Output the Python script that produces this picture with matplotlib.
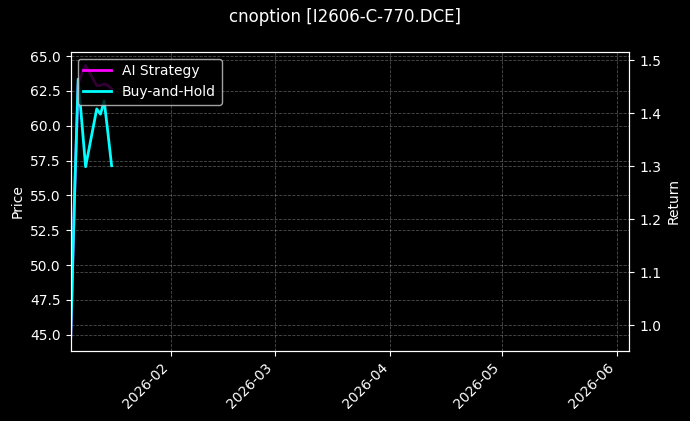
import matplotlib
matplotlib.use("Agg")
import matplotlib.pyplot as plt
import matplotlib.dates as mdates
import pandas as pd

plt.style.use("dark_background")

# values
dates = pd.to_datetime(["2026-01-05", "2026-01-06", "2026-01-07", "2026-01-08", "2026-01-09",
                        "2026-01-12", "2026-01-13", "2026-01-14", "2026-01-15", "2026-01-16"])
ai_strategy = [0.978, 1.237, 1.455, 1.475, 1.490, 1.452, 1.452, 1.455, 1.452, 1.446]
buy_hold = [0.978, 1.237, 1.464, 1.382, 1.299, 1.408, 1.398, 1.423, 1.363, 1.301]
price_range = (43.86, 65.31)
x_range = (pd.Timestamp("2026-01-05"), pd.Timestamp("2026-06-04 07:00"))

fig = plt.figure(figsize=(6.9, 4.21), dpi=100)
ax = fig.add_axes([0.1025, 0.167, 0.8095, 0.71])
ax2 = ax.twinx()

ax2.plot(dates, ai_strategy, color="magenta", lw=2, label="AI Strategy")
ax2.plot(dates, buy_hold, color="cyan", lw=2, label="Buy-and-Hold")

ax.set_ylim(*price_range)
ax.set_xlim(*x_range)
ax.set_ylabel("Price")
ax2.set_ylabel("Return")

ax.xaxis.set_major_locator(mdates.MonthLocator())
ax.xaxis.set_major_formatter(mdates.DateFormatter("%Y-%m"))
plt.setp(ax.get_xticklabels(), rotation=45, ha="right")

ax.grid(True, linestyle="--", linewidth=0.6, alpha=0.3)
ax2.grid(True, axis="y", linestyle="--", linewidth=0.6, alpha=0.3)

ax2.legend(loc="upper left")
fig.suptitle("cnoption [I2606-C-770.DCE]")

fig.savefig("out.png", dpi=100)
